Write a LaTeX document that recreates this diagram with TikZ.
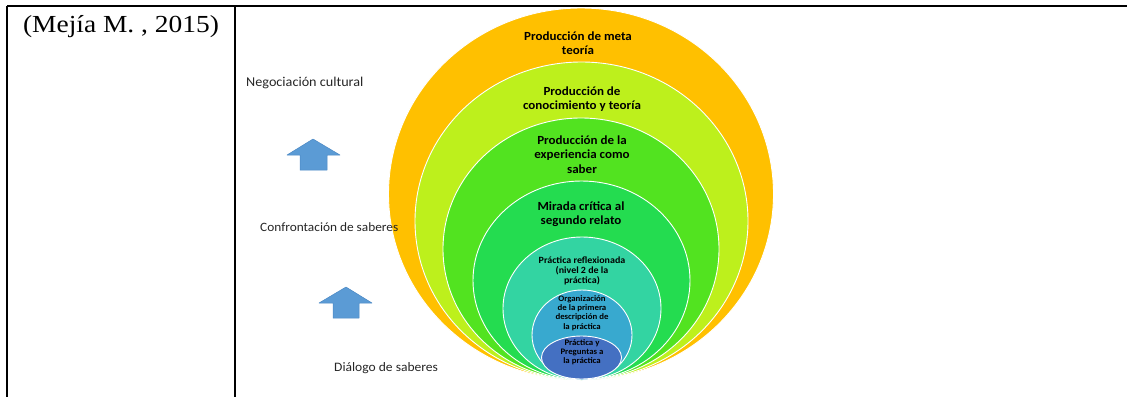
\documentclass[tikz,border=0pt]{standalone}
\usepackage{fontspec}
\setmainfont{Liberation Serif}
\newfontfamily\calfont{Carlito}[FakeStretch=1.05]
\newfontfamily\serfont{Liberation Serif}[FakeStretch=1.12]
\definecolor{cOrange}{HTML}{FFC000}
\definecolor{cLime}{HTML}{BDF01C}
\definecolor{cGreenA}{HTML}{52E320}
\definecolor{cGreenB}{HTML}{24DC50}
\definecolor{cTeal}{HTML}{33D4A2}
\definecolor{cBlue}{HTML}{38A9CF}
\definecolor{cDark}{HTML}{4470C2}
\definecolor{cArrow}{HTML}{5B9BD5}
\definecolor{cArrowEdge}{HTML}{4C89C4}
\tikzset{
  rule/.style={line width=2pt, black},
  ring/.style={draw=white, line width=0.9pt},
  ctext/.style={align=center, inner sep=0pt, text=black},
  side/.style={inner sep=0pt, anchor=west, text=black!85},
  uparrow/.style={fill=cArrow, draw=cArrowEdge, line width=0.5pt, line join=round},
}
\begin{document}
\begin{tikzpicture}[x=1pt,y=-1pt]
\useasboundingbox (0,0) rectangle (1127,397);
% table rules
\coordinate (tl) at (7,6);
\coordinate (tr) at (1127,6);
\coordinate (bl) at (7,397);
\coordinate (tm) at (235,6);
\coordinate (bm) at (235,397);
\draw[rule] (tl) -- (tr);
\draw[rule] (tl) -- (bl);
\draw[rule] (tm) -- (bm);
% citation
\node[inner sep=0pt, font=\serfont\fontsize{24.5}{28}\selectfont] (cite) at (121,26.5) {(Mejía M. , 2015)};
% nested ellipses, tangent at the bottom
\filldraw[ring, fill=cOrange] (581,194) ellipse [x radius=192.5pt, y radius=186pt];
\filldraw[ring, fill=cLime]   (581.5,221) ellipse [x radius=166.5pt, y radius=159pt];
\filldraw[ring, fill=cGreenA] (581,249) ellipse [x radius=138pt, y radius=131pt];
\filldraw[ring, fill=cGreenB] (581.5,280.5) ellipse [x radius=108.5pt, y radius=99.5pt];
\filldraw[ring, fill=cTeal]   (582,308.5) ellipse [x radius=79pt, y radius=71.5pt];
\filldraw[ring, fill=cBlue]   (582,335) ellipse [x radius=50pt, y radius=45pt];
\filldraw[ring, fill=cDark]   (581.5,357.5) ellipse [x radius=40pt, y radius=21.5pt];
% ring texts
\node[ctext, font=\calfont\bfseries\fontsize{12.4}{14}\selectfont] (t1) at (578,43) {Producción de meta\\teoría};
\node[ctext, font=\calfont\bfseries\fontsize{12.4}{14.5}\selectfont] (t2) at (582,99) {Producción de\\conocimiento y teoría};
\node[ctext, font=\calfont\bfseries\fontsize{12.4}{14.5}\selectfont] (t3) at (582,154.5) {Producción de la\\experiencia como\\saber};
\node[ctext, font=\calfont\bfseries\fontsize{12.4}{14}\selectfont] (t4) at (581,214) {Mirada crítica al\\segundo relato};
\node[ctext, font=\calfont\bfseries\fontsize{9.5}{10}\selectfont] (t5) at (582,271) {Práctica reflexionada\\(nivel 2 de la\\práctica)};
\node[ctext, font=\calfont\bfseries\fontsize{8.4}{9.2}\selectfont] (t6) at (582,313) {Organización\\de la primera\\descripción de\\la práctica};
\node[ctext, font=\calfont\bfseries\fontsize{8.4}{9.2}\selectfont] (t7) at (582,352) {Práctica y\\Preguntas a\\la práctica};
% side labels
\node[side, font=\calfont\fontsize{13.5}{14}\selectfont] (l1) at (246,83) {Negociación cultural};
\node[side, font=\calfont\fontsize{12.7}{14}\selectfont] (l2) at (260,227) {Confrontación de saberes};
\node[side, font=\calfont\fontsize{12.9}{14}\selectfont] (l3) at (334,368) {Diálogo de saberes};
% block arrows
\filldraw[uparrow] (313,139) -- (340,155) -- (327,155) -- (327,170) -- (300,170) -- (300,155) -- (287,155) -- cycle;
\filldraw[uparrow] (346,287) -- (372,303) -- (359,303) -- (359,318) -- (333,318) -- (333,303) -- (319,303) -- cycle;
\end{tikzpicture}
\end{document}
